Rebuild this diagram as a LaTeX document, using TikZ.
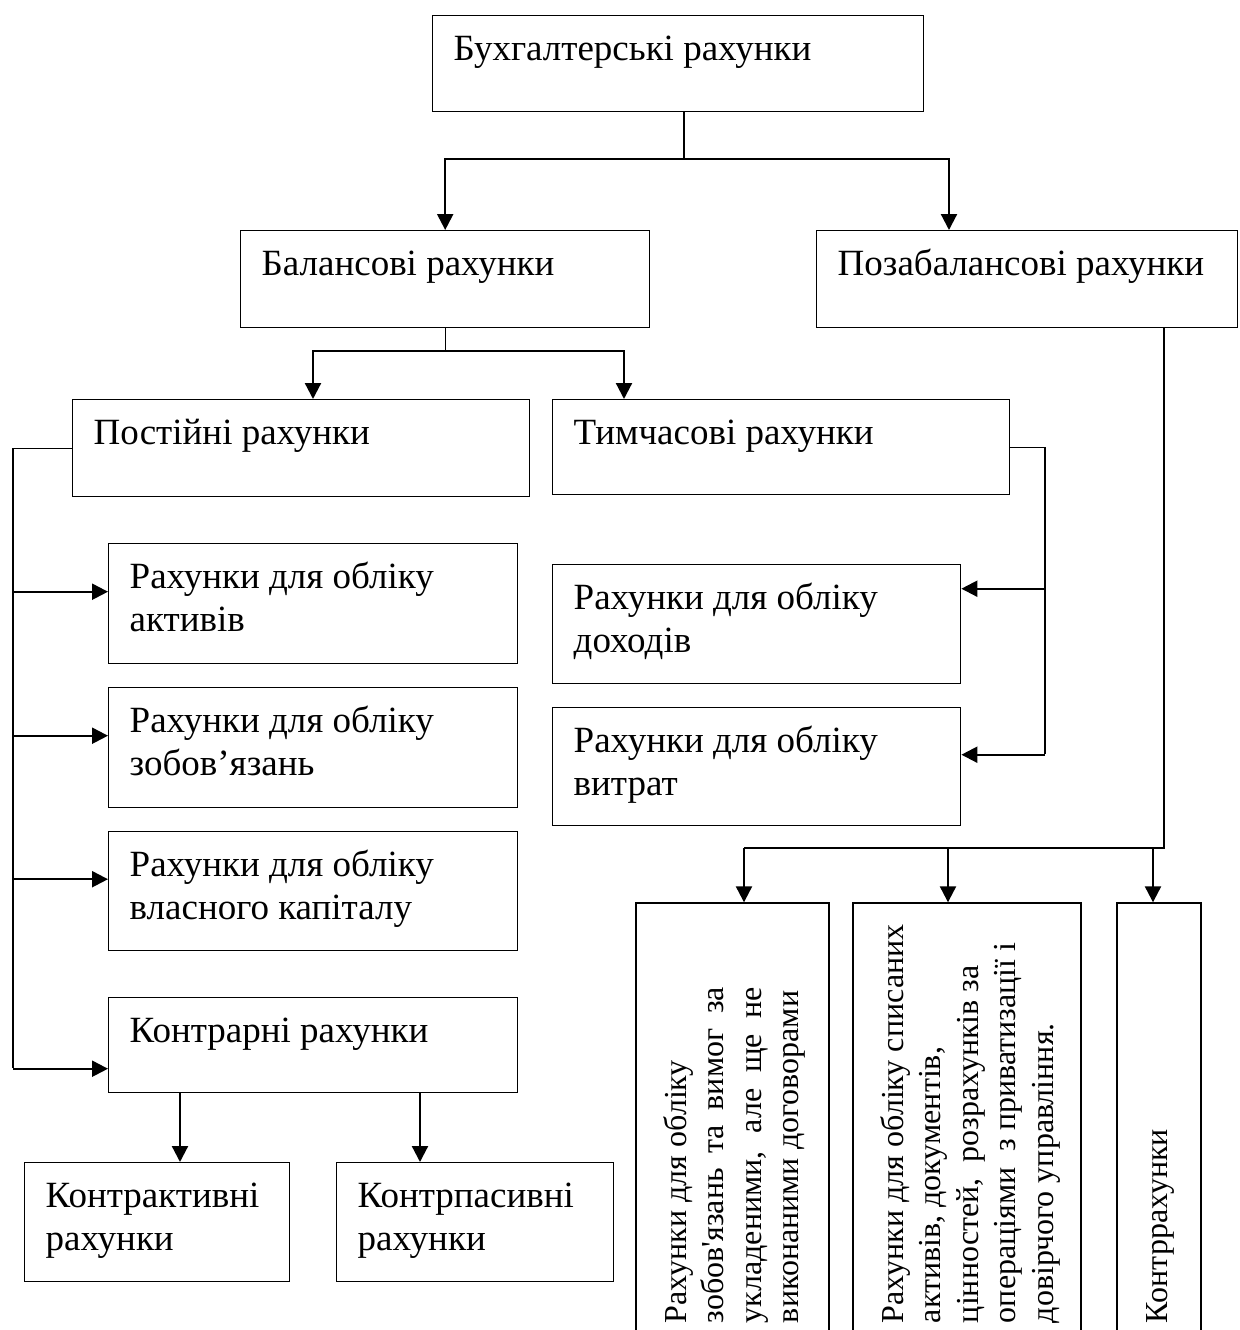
\documentclass[tikz,border=0pt]{standalone}
\usepackage{fontspec}
\setmainfont{Liberation Serif}
\usetikzlibrary{arrows.meta}
\newcommand\hbx[3]{\parbox[c][\dimexpr#2pt/2\relax][t]{\dimexpr#1pt/2\relax}{\leftskip=10.5pt\rule{0pt}{22.5pt}#3}}
\newcommand\vbx[3]{\parbox[c][\dimexpr#2pt/2\relax][t]{\dimexpr#1pt/2\relax}{\fontsize{16}{18.75}\selectfont\leftskip=11pt\rule{0pt}{25pt}#3}}
\begin{document}
\begin{tikzpicture}[x=0.5pt,y=-0.5pt,font=\fontsize{18.5}{21.5}\selectfont,
  box/.style={draw,line width=0.7pt,inner sep=0pt,anchor=north west},
  vbox/.style={draw,line width=0.7pt,inner sep=0pt,rotate=90},
  thinln/.style={line width=0.6pt},
  arr/.style={line width=1.1pt,-{Triangle[length=8pt,width=8pt]}}]
\useasboundingbox (0,0) rectangle (1239,1330);
\clip (0,0) rectangle (1239,1330);

\node[box] (top) at (432,15) {\hbx{491}{96}{Бухгалтерські рахунки}};
\node[box] (bal) at (240,230) {\hbx{409}{97}{Балансові рахунки}};
\node[box] (poza) at (816,230) {\hbx{421}{97}{Позабалансові рахунки}};
\node[box] (post) at (72,399) {\hbx{457}{97}{Постійні рахунки}};
\node[box] (tym) at (552,399) {\hbx{457}{95}{Тимчасові рахунки}};
\node[box] (akt) at (108,543) {\hbx{409}{120}{Рахунки для обліку\\активів}};
\node[box] (zob) at (108,687) {\hbx{409}{120}{Рахунки для обліку\\зобов’язань}};
\node[box] (kap) at (108,831) {\hbx{409}{119}{Рахунки для обліку\\власного капіталу}};
\node[box] (kon) at (108,997) {\hbx{409}{95}{Контрарні рахунки}};
\node[box] (dok) at (552,564) {\hbx{408}{119}{Рахунки для обліку\\доходів}};
\node[box] (vyt) at (552,707) {\hbx{408}{118}{Рахунки для обліку\\витрат}};
\node[box] (kak) at (24,1162) {\hbx{265}{119}{Контрактивні\\рахунки}};
\node[box] (kpa) at (336,1162) {\hbx{277}{119}{Контрпасивні\\рахунки}};

\node[vbox] (v1) at (732.5,1124) {\vbx{442}{193}{Рахунки для обліку\\\makebox[168pt][s]{зобов\textquotesingle язань та вимог за}\\\makebox[168pt][s]{укладеними, але ще не}\\виконаними договорами}};
\node[vbox] (v2) at (967,1124) {\vbx{442}{228}{Рахунки для обліку списаних\\активів, документів,\\цінностей,\ \ розрахунків за\\операціями\ \ з приватизації і\\довірчого управління.}};
\node[vbox] (v3) at (1159,1124) {\vbx{442}{84}{Контррахунки}};

% top level
\coordinate (j1) at (684,159);
\draw[thinln] (top.south -| j1) -- (j1);
\draw[arr] (j1) -| (bal.north);
\coordinate (pzin) at ([xshift=66.5pt]poza.north west);
\draw[arr] (j1) -| (pzin);

% balance
\coordinate (j2row) at (0,351);
\coordinate (j2) at (bal.south |- j2row);
\draw[thinln] (bal.south) -- (j2);
\coordinate (postin) at ([xshift=120.5pt]post.north west);
\coordinate (tymin) at ([xshift=36pt]tym.north west);
\draw[arr] (j2) -| (postin);
\draw[arr] (j2) -| (tymin);

% permanent accounts
\coordinate (pb) at (13,1068);
\draw[thinln] (post.west) -| (pb);
\coordinate (a1) at ([yshift=6pt]akt.west);
\coordinate (a2) at ([yshift=6pt]zob.west);
\coordinate (a3) at ([yshift=6pt]kap.west);
\coordinate (a4) at ([yshift=-11.75pt]kon.west);
\draw[arr] (a1 -| pb) -- (a1);
\draw[arr] (a2 -| pb) -- (a2);
\draw[arr] (a3 -| pb) -- (a3);
\draw[arr] (a4 -| pb) -- (a4);

% temporary accounts
\coordinate (tb) at (1045,754);
\draw[thinln] (tym.east) -| (tb);
\coordinate (d1) at ([yshift=17.75pt]dok.east);
\coordinate (d2) at ([yshift=6pt]vyt.east);
\draw[arr] (d1 -| tb) -- (d1);
\draw[arr] (d2 -| tb) -- (d2);

% contra
\coordinate (k1) at ([xshift=36pt]kon.south west);
\coordinate (k2) at ([xshift=156pt]kon.south west);
\draw[arr] (k1) -- (k1 |- kak.north);
\draw[arr] (k2) -- (k2 |- kpa.north);

% off-balance
\coordinate (pz) at ([xshift=174pt]poza.south west);
\coordinate (h1) at (744,848);
\coordinate (h2) at (948,848);
\coordinate (h3) at (1153,848);
\draw[thinln] (pz) |- (h1);
\draw[arr] (h1) -- (h1 |- v1.east);
\draw[arr] (h2) -- (h2 |- v2.east);
\draw[arr] (h3) -- (h3 |- v3.east);
\end{tikzpicture}
\end{document}
